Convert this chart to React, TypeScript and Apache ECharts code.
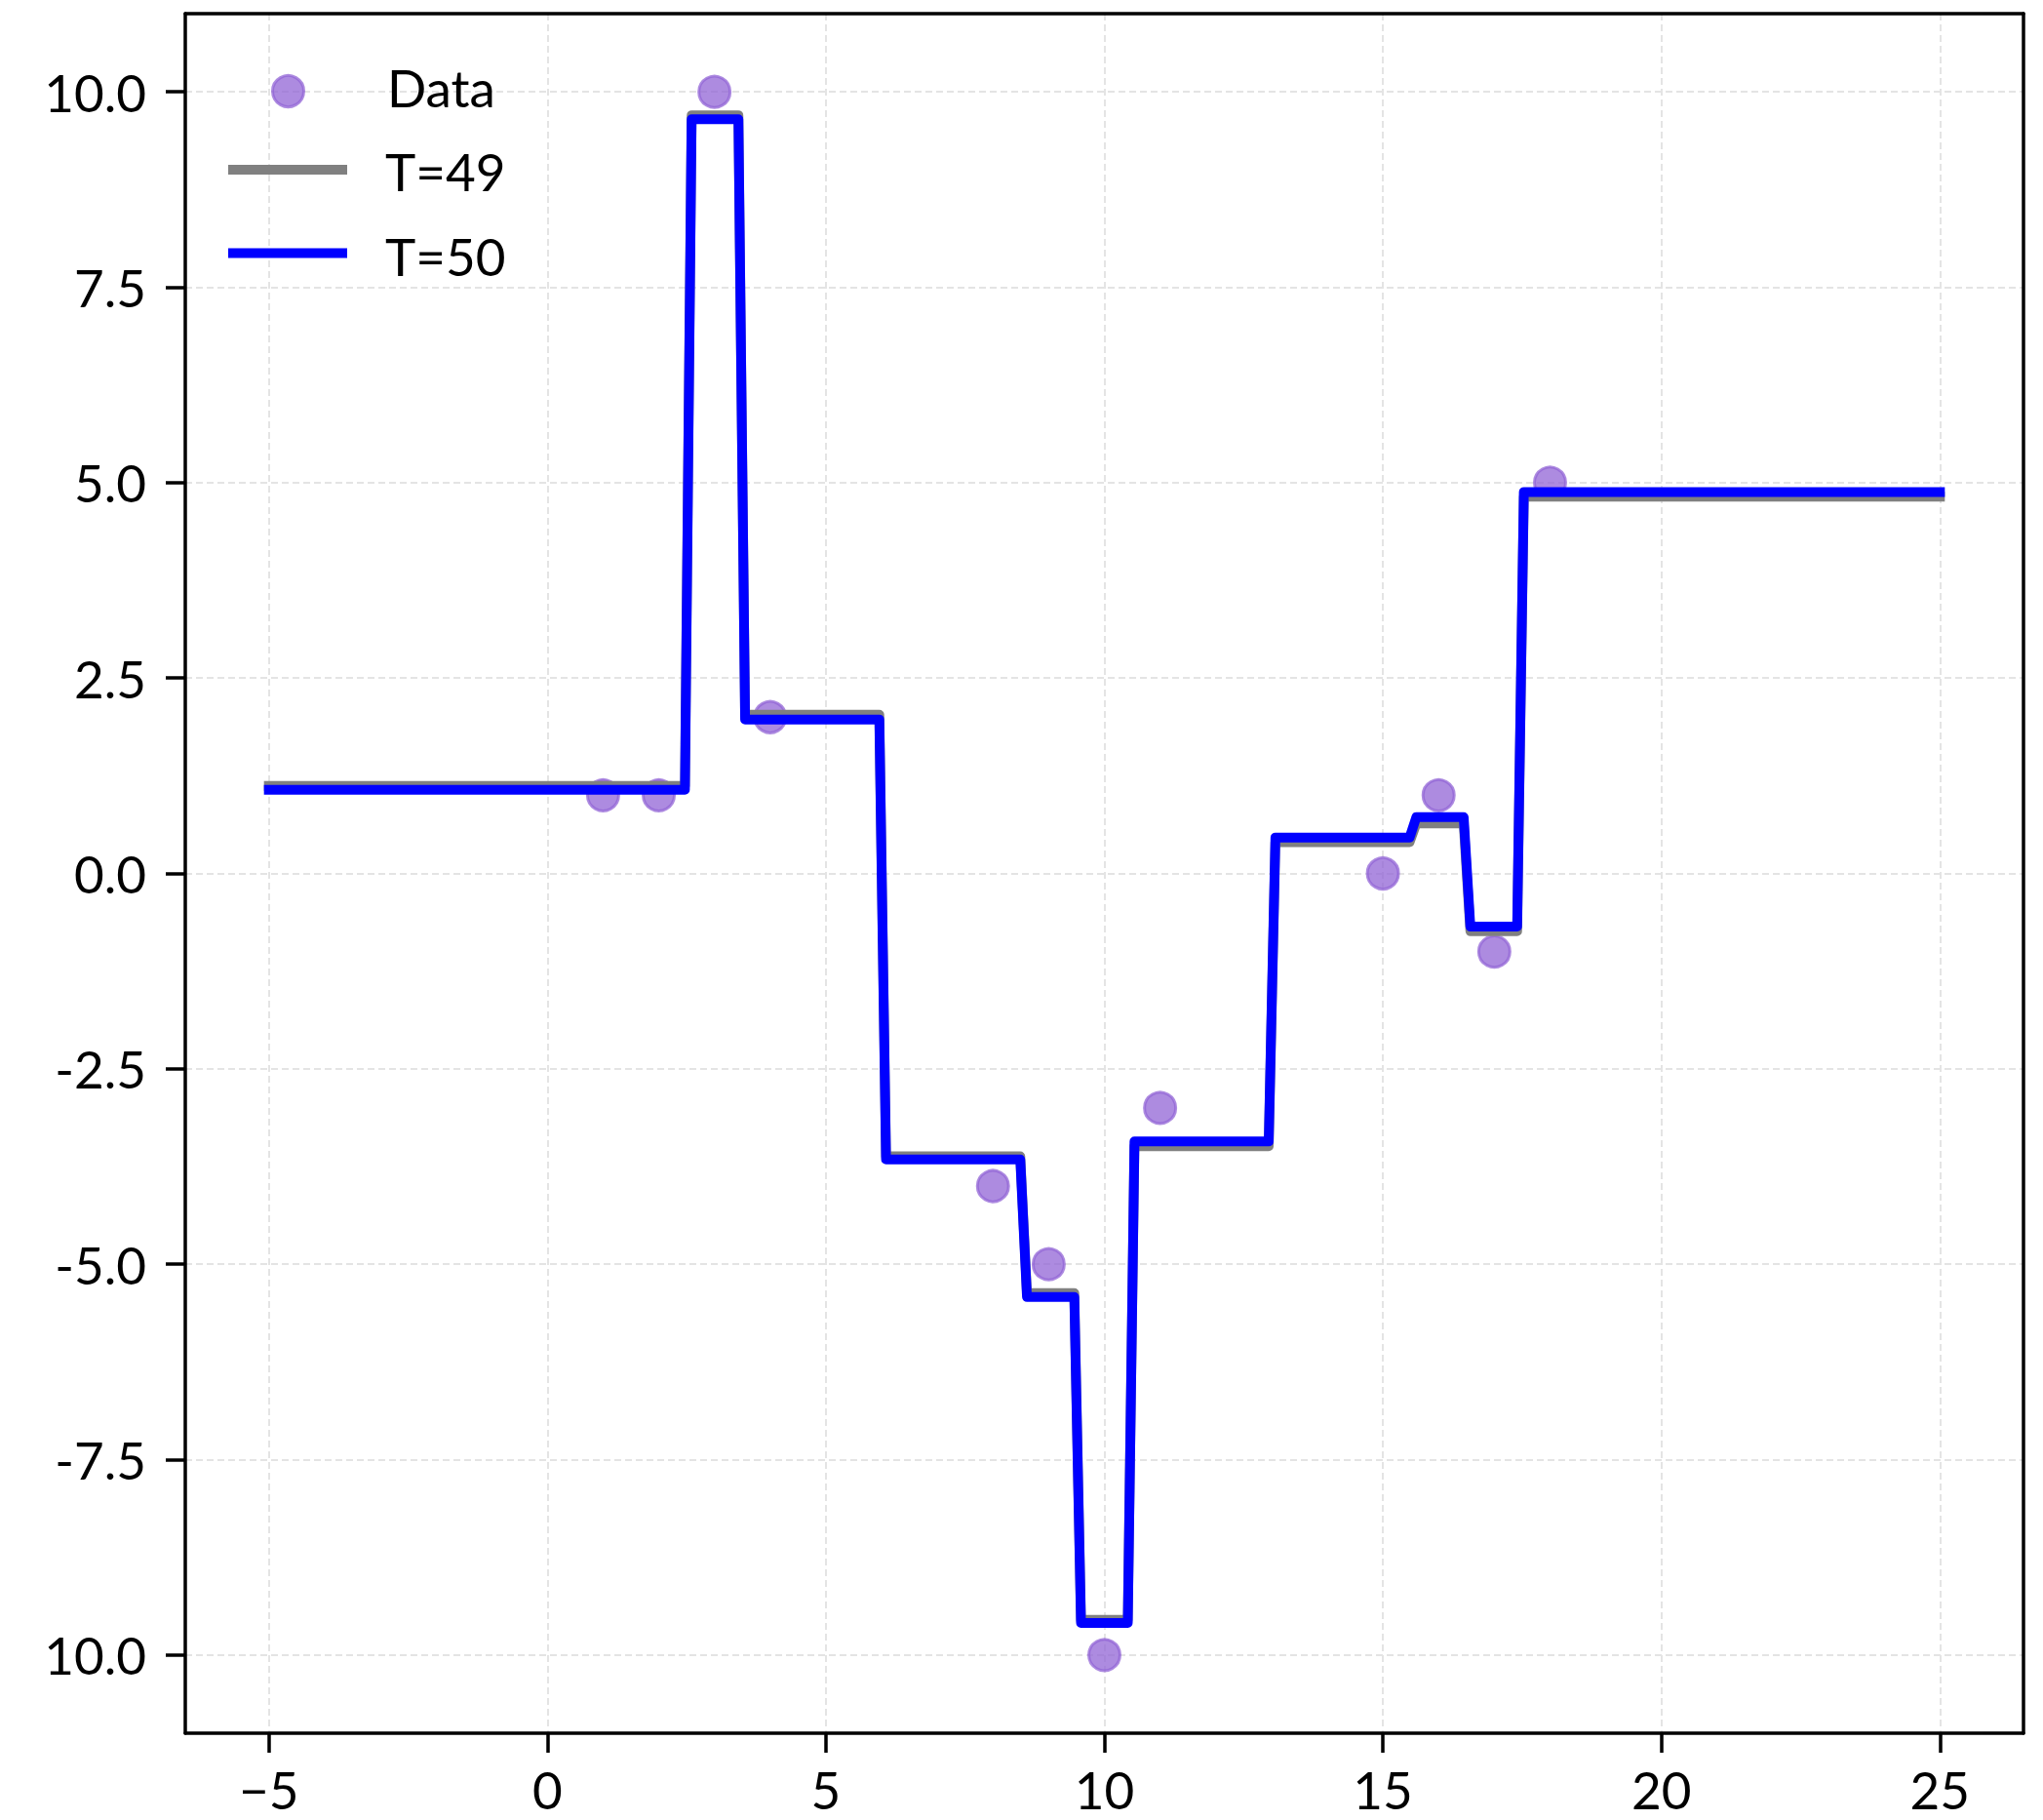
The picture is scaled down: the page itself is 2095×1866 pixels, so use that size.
import React, { useEffect, useRef } from "react";
import * as echarts from "echarts";

// ---- data ----
const DATA_X = [1, 2, 3, 4, 8, 9, 10, 11, 15, 16, 17, 18];
const DATA_Y = [1, 1, 10, 2, -4, -5, -10, -3, 0, 1, -1, 5];

// step-curve vertices (prediction evaluated on a fine grid)
const STEP_X = [-5, 2.47, 2.59, 3.43, 3.55, 5.96, 6.08, 8.49, 8.61, 9.46, 9.58, 10.42, 10.54, 12.95, 13.07, 15.48, 15.6, 16.45, 16.57, 17.41, 17.53, 25];
const T49_Y = [1.12, 1.12, 9.7, 9.7, 2.03, 2.03, -3.62, -3.62, -5.37, -5.37, -9.55, -9.55, -3.49, -3.49, 0.4, 0.4, 0.64, 0.64, -0.74, -0.74, 4.82, 4.82];
const T50_Y = [1.07, 1.07, 9.65, 9.65, 1.97, 1.97, -3.66, -3.66, -5.42, -5.42, -9.59, -9.59, -3.43, -3.43, 0.46, 0.46, 0.72, 0.72, -0.68, -0.68, 4.88, 4.88];

const X_MIN = -6.5;
const X_MAX = 26.5;
const Y_MIN = -11;
const Y_MAX = 11;
const X_TICKS = [-5, 0, 5, 10, 15, 20, 25];
const X_TICK_LABELS = ["\u22125", "0", "5", "10", "15", "20", "25"];
const Y_TICKS = [-10, -7.5, -5, -2.5, 0, 2.5, 5, 7.5, 10];
const Y_TICK_LABELS = ["10.0", "-7.5", "-5.0", "-2.5", "0.0", "2.5", "5.0", "7.5", "10.0"];

const SERIES_NAMES = ["Data", "T=49", "T=50"];

const FONT = "Lato, 'Noto Sans', sans-serif";
const FS = 53;
const DOT_COLOR = "rgba(145,100,214,0.75)";

function nearestLabel(v: number, ticks: number[], labels: string[]) {
  let best = 0;
  for (let i = 1; i < ticks.length; i++) {
    if (Math.abs(ticks[i] - v) < Math.abs(ticks[best] - v)) best = i;
  }
  return labels[best];
}

export default function App() {
  const ref = useRef<HTMLDivElement>(null);
  useEffect(() => {
    if (!ref.current) return;
    const chart = echarts.init(ref.current, undefined, { renderer: "svg" });
    const gridLine = () => ({ show: true, lineStyle: { color: "#e4e4e4", width: 2, type: [7, 4] as any } });
    const spine = () => ({ show: true, onZero: false, lineStyle: { color: "#000", width: 3.5 } });
    const bare = (extra: any) => ({
      ...extra,
      axisLine: spine(),
      axisTick: { show: false },
      axisLabel: { show: false },
      splitLine: { show: false },
    });
    const option: any = {
      animation: false,
      grid: { left: 190, right: 20, top: 14, bottom: 89 },
      xAxis: [
        {
          type: "value", min: X_MIN, max: X_MAX,
          axisLine: spine(),
          axisTick: { show: true, length: 20, lineStyle: { color: "#000", width: 3.5 }, customValues: X_TICKS },
          axisLabel: {
            customValues: X_TICKS,
            formatter: (v: number) => nearestLabel(v, X_TICKS, X_TICK_LABELS),
            color: "#000", fontSize: FS, fontFamily: FONT, margin: 35, lineHeight: 44,
          },
          splitLine: gridLine(),
        },
        bare({ type: "value", min: X_MIN, max: X_MAX, position: "top" }),
      ],
      yAxis: [
        {
          type: "value", min: Y_MIN, max: Y_MAX,
          axisLine: spine(),
          axisTick: { show: true, length: 20, lineStyle: { color: "#000", width: 3.5 }, customValues: Y_TICKS },
          axisLabel: {
            customValues: Y_TICKS,
            formatter: (v: number) => nearestLabel(v, Y_TICKS, Y_TICK_LABELS),
            color: "#000", fontSize: FS, fontFamily: FONT, margin: 40,
          },
          splitLine: gridLine(),
        },
        bare({ type: "value", min: Y_MIN, max: Y_MAX, position: "right" }),
      ],
      series: [
        {
          name: SERIES_NAMES[0], type: "scatter", z: 1, clip: false,
          data: DATA_X.map((x, i) => [x, DATA_Y[i]]),
          symbol: "circle", symbolSize: 32,
          itemStyle: { color: DOT_COLOR, borderColor: DOT_COLOR, borderWidth: 3, opacity: 1 },
        },
        {
          name: SERIES_NAMES[1], type: "line", z: 2, clip: false,
          data: STEP_X.map((x, i) => [x, T49_Y[i]]),
          symbol: "none",
          lineStyle: { color: "#808080", width: 10, cap: "square", join: "round" },
        },
        {
          name: SERIES_NAMES[2], type: "line", z: 3, clip: false,
          data: STEP_X.map((x, i) => [x, T50_Y[i]]),
          symbol: "none",
          lineStyle: { color: "#0000ff", width: 10, cap: "square", join: "round" },
        },
      ],
      graphic: [
        {
          type: "circle", shape: { cx: 295.5, cy: 93.5, r: 16 }, z: 10,
          style: { fill: DOT_COLOR, stroke: DOT_COLOR, lineWidth: 3 },
        },
        {
          type: "line", shape: { x1: 234, y1: 174, x2: 356, y2: 174 }, z: 10,
          style: { stroke: "#808080", lineWidth: 10 },
        },
        {
          type: "line", shape: { x1: 234, y1: 259.5, x2: 356, y2: 259.5 }, z: 10,
          style: { stroke: "#0000ff", lineWidth: 10 },
        },
        {
          type: "text", x: 397, y: 89, z: 10,
          style: { text: SERIES_NAMES[0], fill: "#000", font: `${FS}px ${FONT}`, verticalAlign: "middle", align: "left" },
        },
        {
          type: "text", x: 395, y: 175, z: 10,
          style: { text: SERIES_NAMES[1], fill: "#000", font: `${FS}px ${FONT}`, verticalAlign: "middle", align: "left" },
        },
        {
          type: "text", x: 395, y: 262, z: 10,
          style: { text: SERIES_NAMES[2], fill: "#000", font: `${FS}px ${FONT}`, verticalAlign: "middle", align: "left" },
        },
      ],
    };
    chart.setOption(option);
    return () => chart.dispose();
  }, []);
  return (
    <div
      ref={ref}
      style={{ position: "absolute", left: 0, top: 0, width: 2095, height: 1866, background: "#fff" }}
    />
  );
}
